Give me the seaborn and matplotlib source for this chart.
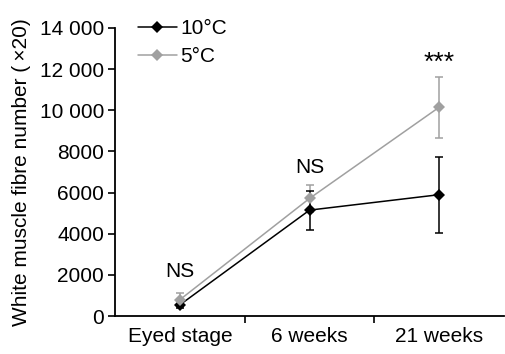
import numpy as np
import pandas as pd
import seaborn as sns
import matplotlib.pyplot as plt
from matplotlib.ticker import FuncFormatter, FixedLocator

stages = ["Eyed stage", "6 weeks", "21 weeks"]
temps = ["10°C", "5°C"]
mean_10 = [550, 5150, 5900]
err_10 = [170, 950, 1850]
mean_5 = [800, 5720, 10150]
err_5 = [300, 650, 1480]
annot_text = ["NS", "NS", "***"]
annot_y = [2150, 7200, 12300]
palette = {"10°C": "black", "5°C": "#a0a0a0"}

df = pd.DataFrame({
    "stage": stages * 2,
    "x": list(range(len(stages))) * 2,
    "temp": [temps[0]] * 3 + [temps[1]] * 3,
    "mean": mean_10 + mean_5,
    "err": err_10 + err_5,
})

sns.set_style("ticks", {"text.color": "black", "axes.edgecolor": "black",
                        "axes.labelcolor": "black", "xtick.color": "black",
                        "ytick.color": "black"})
plt.rcParams["font.family"] = ["Liberation Sans", "DejaVu Sans"]
plt.rcParams["font.size"] = 15

fig = plt.figure(figsize=(5.05, 3.54), dpi=100)
ax = fig.add_axes([0.228, 0.107, 0.77, 0.814])

# error bars first, so the lines sit on top
for t in temps[::-1]:
    sub = df[df.temp == t]
    ax.errorbar(sub.x, sub["mean"], yerr=sub.err, fmt="none", ecolor=palette[t],
                elinewidth=1.1, capsize=3.2, capthick=1.1, zorder=2)

sns.lineplot(data=df, x="x", y="mean", hue="temp", hue_order=temps, palette=palette,
             marker="D", markersize=6, markeredgewidth=0, linewidth=1.1,
             ax=ax, legend=True, zorder=3)

for i, (txt, y) in enumerate(zip(annot_text, annot_y)):
    ax.text(i, y, txt, ha="center", va="center", color="black",
            fontsize=19 if txt.startswith("*") else 15)

ax.set_xlim(-0.5, 2.5)
ax.set_ylim(0, 14000)
ax.set_yticks(np.arange(0, 14001, 2000))
ax.yaxis.set_major_formatter(FuncFormatter(
    lambda v, p: f"{int(v):,}".replace(",", " ") if v >= 10000 else f"{int(v)}"))
ax.set_xticks(range(len(stages)))
ax.set_xticklabels(stages)
ax.tick_params(axis="x", which="major", length=0, pad=8)
ax.xaxis.set_minor_locator(FixedLocator([0.5, 1.5]))
ax.tick_params(axis="x", which="minor", length=5, width=1.2, direction="out")
ax.tick_params(axis="y", length=5, width=1.2, pad=3)
for s in ["left", "bottom"]:
    ax.spines[s].set_linewidth(1.3)
sns.despine(ax=ax)

ax.set_xlabel("")
ax.set_ylabel("White muscle fibre number (\u2009×20)", fontsize=15, labelpad=6)

leg = ax.legend(loc="upper left", bbox_to_anchor=(0.02, 1.08), frameon=False,
                handlelength=1.9, handletextpad=0.15, labelspacing=0.42,
                borderaxespad=0.3, fontsize=15)

fig.savefig("out.png", dpi=100)
